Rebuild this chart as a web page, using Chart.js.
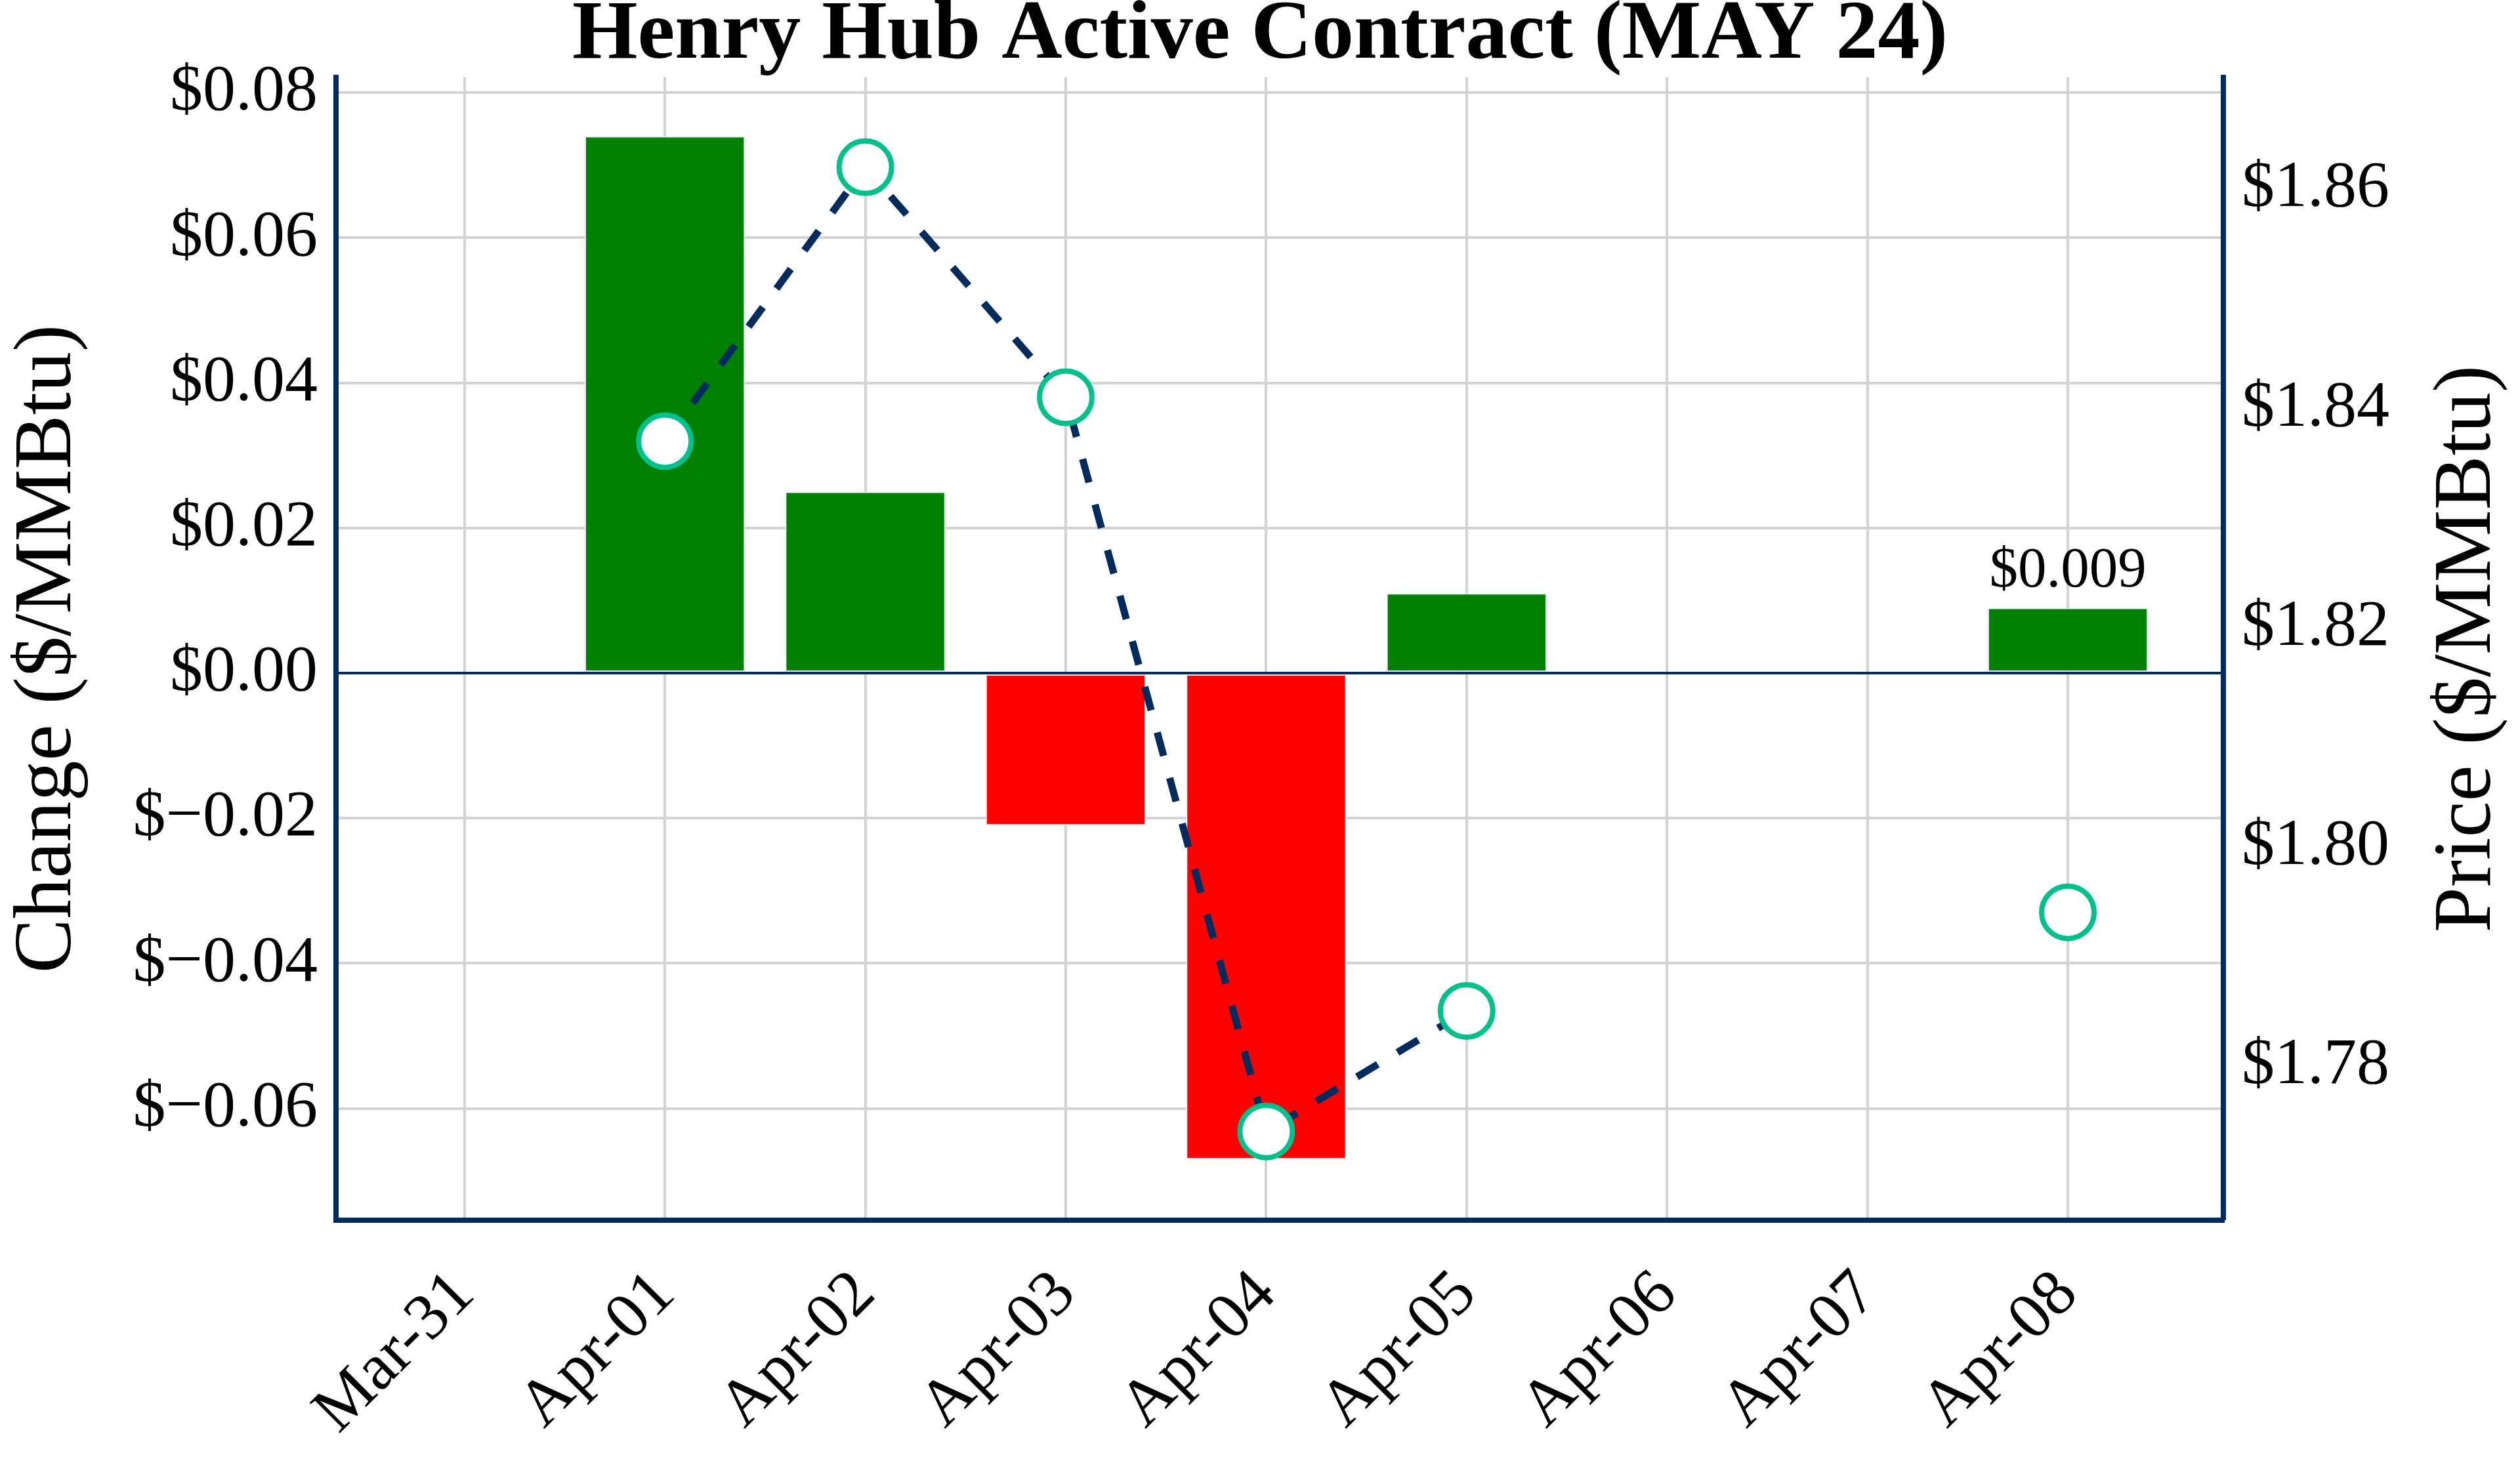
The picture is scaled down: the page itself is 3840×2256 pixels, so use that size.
<!DOCTYPE html>
<html>
<head>
<meta charset="utf-8">
<title>Henry Hub Active Contract (MAY 24)</title>
<script src="https://cdn.jsdelivr.net/npm/chart.js@4.4.1/dist/chart.umd.min.js"></script>
<style>
    html, body { margin: 0; padding: 0; background: #ffffff; }
    #wrap { width: 3840px; height: 2256px; }
</style>
</head>
<body>
<div id="wrap"><canvas id="hhChart" width="3840" height="2256"></canvas></div>
<script>
// data
const days = ['Mar-31', 'Apr-01', 'Apr-02', 'Apr-03', 'Apr-04', 'Apr-05', 'Apr-06', 'Apr-07', 'Apr-08'];
const changeVals = [null, 0.074, 0.025, -0.021, -0.067, 0.011, null, null, 0.009];
const priceVals = [null, 1.837, 1.862, 1.841, 1.774, 1.785, null, null, 1.794];
const changeTicks = [-0.06, -0.04, -0.02, 0, 0.02, 0.04, 0.06, 0.08];
const priceTicks = [1.78, 1.80, 1.82, 1.84, 1.86];
const labelledDay = 'Apr-08';

const FONT = '"Liberation Serif", "Times New Roman", serif';
const NAVY = '#002B5C';
const GRID = '#D3D3D3';

// $ format with a real minus sign
function money(v, digits) {
    const s = Math.abs(v).toFixed(digits);
    return v < 0 ? '$\u2212' + s : '$' + s;
}

// bars only where there is a change
const barPoints = changeVals
    .map((v, i) => ({ x: i, y: v }))
    .filter(p => p.y !== null);
const barColors = barPoints.map(p => p.y < 0 ? '#FF0000' : '#008000');
const pricePoints = priceVals.map((v, i) => ({ x: i, y: v }));

// value label over one bar
const barLabel = {
    id: 'barLabel',
    afterDatasetsDraw(chart) {
        const meta = chart.getDatasetMeta(0);
        const idx = barPoints.findIndex(p => days[p.x] === labelledDay);
        if (idx < 0) return;
        const bar = meta.data[idx];
        const ctx = chart.ctx;
        ctx.save();
        ctx.font = '87px ' + FONT;
        ctx.fillStyle = '#000';
        ctx.textAlign = 'center';
        ctx.textBaseline = 'alphabetic';
        ctx.fillText(money(barPoints[idx].y, 3), bar.x, bar.y - 32);
        ctx.restore();
    }
};

// right axis title reads bottom to top, chart.js would turn it the other way
const rightTitle = {
    id: 'rightTitle',
    afterDraw(chart) {
        const area = chart.chartArea;
        const ctx = chart.ctx;
        ctx.save();
        ctx.translate(chart.width - 79, (area.top + area.bottom) / 2);
        ctx.rotate(-Math.PI / 2);
        ctx.font = '124px ' + FONT;
        ctx.fillStyle = '#000';
        ctx.textAlign = 'center';
        ctx.textBaseline = 'middle';
        ctx.fillText('Price ($/MMBtu)', 0, 0);
        ctx.restore();
    }
};

Chart.defaults.font.family = FONT;
Chart.defaults.color = '#000';

new Chart(document.getElementById('hhChart'), {
    type: 'bar',
    data: {
        datasets: [{
            type: 'bar',
            label: 'Change',
            data: barPoints,
            xAxisID: 'x',
            yAxisID: 'y',
            backgroundColor: barColors,
            borderColor: '#E5ECF6',
            borderWidth: 2,
            borderSkipped: false,
            categoryPercentage: 0.8,
            barPercentage: 1,
            order: 2
        }, {
            type: 'line',
            label: 'Price',
            data: pricePoints,
            xAxisID: 'x',
            yAxisID: 'y1',
            borderColor: NAVY,
            borderWidth: 11,
            borderDash: [37, 35],
            tension: 0,
            spanGaps: false,
            fill: false,
            pointRadius: 40,
            pointBorderWidth: 8,
            pointBackgroundColor: '#FFFFFF',
            pointBorderColor: '#00C18C',
            order: 1
        }]
    },
    options: {
        responsive: false,
        animation: false,
        devicePixelRatio: 1,
        events: [],
        layout: { padding: 0 },
        plugins: {
            legend: { display: false },
            tooltip: { enabled: false },
            title: {
                display: true,
                text: 'Henry Hub Active Contract (MAY 24)',
                color: '#000',
                font: { size: 128, weight: 'bold', lineHeight: 0.78 },
                padding: { top: 5, bottom: 13 }
            }
        },
        scales: {
            x: {
                type: 'linear',
                position: 'bottom',
                offset: false,
                min: -0.641,
                max: 8.776,
                afterBuildTicks: s => { s.ticks = days.map((d, i) => ({ value: i })); },
                afterFit: s => { s.height = 396; },
                ticks: {
                    callback: v => days[v],
                    autoSkip: false,
                    minRotation: 45,
                    maxRotation: 45,
                    padding: 55,
                    font: { size: 100 }
                },
                grid: { color: GRID, lineWidth: 4, drawTicks: false, offset: false },
                border: { color: NAVY, width: 8 }
            },
            y: {
                type: 'linear',
                position: 'left',
                min: -0.0754,
                max: 0.0821,
                afterBuildTicks: s => { s.ticks = changeTicks.map(v => ({ value: v })); },
                afterFit: s => { s.width = 512; },
                ticks: {
                    callback: v => money(v, 2),
                    padding: 28,
                    font: { size: 100 }
                },
                grid: {
                    color: c => c.tick && c.tick.value === 0 ? NAVY : GRID,
                    lineWidth: 4,
                    drawTicks: false
                },
                border: { color: NAVY, width: 8 },
                title: {
                    display: true,
                    text: 'Change ($/MMBtu)',
                    font: { size: 124, lineHeight: 1.0 },
                    padding: { top: 12, bottom: 0 }
                }
            },
            y1: {
                type: 'linear',
                position: 'right',
                min: 1.7659,
                max: 1.8702,
                afterBuildTicks: s => { s.ticks = priceTicks.map(v => ({ value: v })); },
                afterFit: s => { s.width = 452; },
                ticks: {
                    callback: v => money(v, 2),
                    padding: 28,
                    font: { size: 100 }
                },
                grid: { drawOnChartArea: false, drawTicks: false },
                border: { color: NAVY, width: 8 }
            }
        }
    },
    plugins: [barLabel, rightTitle]
});
</script>
</body>
</html>
